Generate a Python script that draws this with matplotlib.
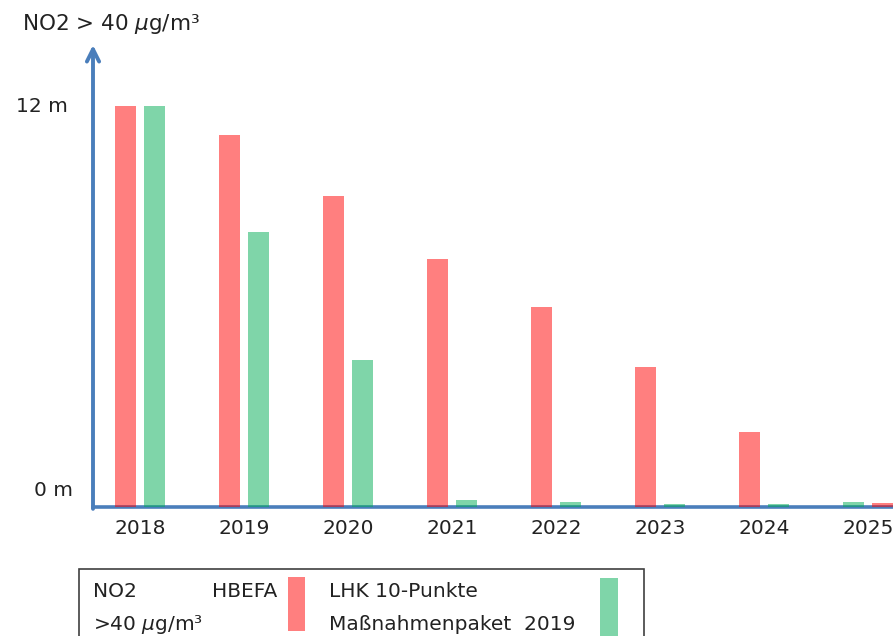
import numpy as np
from matplotlib import pyplot as plt
from matplotlib.patches import Rectangle

years = [2018, 2019, 2020, 2021, 2022, 2023, 2024, 2025]
hbefa = [12.0, 11.15, 9.31, 7.42, 5.98, 4.18, 2.25, 0.13]   # NO2 HBEFA
lhk = [12.0, 8.24, 4.40, 0.21, 0.16, 0.09, 0.09, 0.16]      # LHK 10-Punkte Massnahmenpaket 2019

W, H = 893, 636
blue = '#4a7ebb'
red = '#ff0000'
green = '#00ad55'

plt.rcParams['font.family'] = ['DejaVu Sans']
plt.rcParams['mathtext.fontset'] = 'dejavusans'


def fx(x):
    return x / W


def fy(y):
    return 1 - y / H


fig = plt.figure(figsize=(W / 100, H / 100), dpi=100)
ax = fig.add_axes([fx(93), fy(507), fx(893) - fx(93), fy(45) - fy(507)])

x = np.arange(len(years))
# in 2025 the order of the two bars is swapped in the original
side = np.where(np.array(years) == 2025, 1, -1)
ax.bar(x + side * 0.14, hbefa, width=0.205, color=red, alpha=0.5, zorder=3)
ax.bar(x - side * 0.14, lhk, width=0.205, color=green, alpha=0.5, zorder=3)

ax.set_xlim(-0.452, 7.24)
ax.set_ylim(0, 13.83)

for s in ['top', 'right', 'left']:
    ax.spines[s].set_visible(False)
ax.spines['bottom'].set_color(blue)
ax.spines['bottom'].set_linewidth(2.6)
ax.spines['bottom'].set_zorder(2)

ax.annotate('', xy=(0, 1), xytext=(0, -0.004), xycoords='axes fraction',
            arrowprops=dict(arrowstyle='->', color=blue, lw=2.8,
                            mutation_scale=22, shrinkA=0, shrinkB=0))

ax.set_xticks(x)
ax.set_xticklabels([str(y) for y in years], fontsize=14.5, color='#222222')
ax.tick_params(axis='x', length=0, pad=9)
ax.set_yticks([])

ytr = ax.get_yaxis_transform()
ax.text(-0.031, 12, '12 m', transform=ytr, ha='right', va='center', fontsize=14.5, color='#222222')
ax.text(-0.025, 0.5, '0 m', transform=ytr, ha='right', va='center', fontsize=14.5, color='#222222')

fig.text(fx(22), fy(30), r'NO2 > 40 $\mu$g/m³', fontsize=15.5, va='baseline', color='#222222')

# legend box at the bottom (cut off by the picture edge)
box = Rectangle((fx(79), fy(645)), fx(644) - fx(79), fy(569) - fy(645), transform=fig.transFigure,
                fill=False, edgecolor='#404040', lw=1.2, clip_on=False)
fig.patches.append(box)
fig.patches.append(Rectangle((fx(288), fy(631)), fx(305) - fx(288), fy(577) - fy(631),
                             transform=fig.transFigure, color=red, alpha=0.5, lw=0))
fig.patches.append(Rectangle((fx(600), fy(645)), fx(618) - fx(600), fy(578) - fy(645),
                             transform=fig.transFigure, color=green, alpha=0.5, lw=0))

fs = 14.5
fig.text(fx(93), fy(597), 'NO2', fontsize=fs, va='baseline', color='#222222')
fig.text(fx(212), fy(597), 'HBEFA', fontsize=fs, va='baseline', color='#222222')
fig.text(fx(93), fy(630), r'>40 $\mu$g/m³', fontsize=fs, va='baseline', color='#222222')
fig.text(fx(329), fy(597), 'LHK 10-Punkte', fontsize=fs, va='baseline', color='#222222')
fig.text(fx(329), fy(630), 'Maßnahmenpaket  2019', fontsize=fs, va='baseline', color='#222222')

fig.savefig('out.png', dpi=100)
